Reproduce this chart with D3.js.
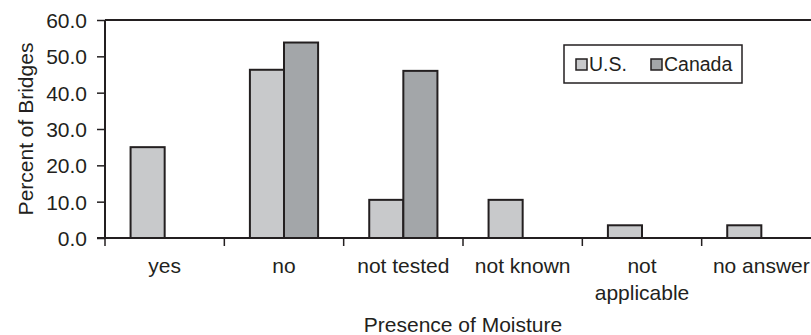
<!DOCTYPE html>
<html>
<head>
<meta charset="utf-8">
<script src="https://cdn.jsdelivr.net/npm/d3@7"></script>
<style>
  html, body { margin: 0; padding: 0; background: #fff; }
  svg { display: block; }
  text { font-family: "Liberation Sans", Arial, Helvetica, sans-serif; fill: #231f20; }
</style>
</head>
<body>
<svg id="chart" width="811" height="335"></svg>
<script>
const categories = ["yes", "no", "not tested", "not known", "not applicable", "no answer"];
const seriesNames = ["U.S.", "Canada"];
const usValues = [25.0, 46.3, 10.5, 10.5, 3.5, 3.5];
const canadaValues = [null, 53.8, 46.0, null, null, null];
const yTicks = [0, 10, 20, 30, 40, 50, 60];
const xTitle = "Presence of Moisture";
const yTitle = "Percent of Bridges";

(function () {
const colors = { "U.S.": "#c8c9cb", "Canada": "#a3a6a9" };
const ink = "#231f20";

const svg = d3.select("#chart");
const mLeft = 105, mTop = 20, mBottom = 238, mRight = 821;

const x0 = d3.scaleBand().domain(categories).range([mLeft, mRight]).paddingInner(0).paddingOuter(0);
const x1 = d3.scaleBand().domain(seriesNames).range([0, x0.bandwidth()]).paddingInner(0).paddingOuter(0.75);
const y = d3.scaleLinear().domain([0, 60]).range([mBottom, mTop]);

const rows = categories.map((c, i) => ({
  category: c,
  values: [
    { series: "U.S.", value: usValues[i] },
    { series: "Canada", value: canadaValues[i] }
  ].filter(d => d.value != null)
}));

// plot area border (top & right edges)
svg.append("line").attr("x1", mLeft).attr("x2", mRight).attr("y1", y(60)).attr("y2", y(60))
  .attr("stroke", ink).attr("stroke-width", 2);
svg.append("line").attr("x1", mRight).attr("x2", mRight).attr("y1", y(60)).attr("y2", y(0))
  .attr("stroke", ink).attr("stroke-width", 2);

// bars
const g = svg.append("g");
g.selectAll("g.cat").data(rows).join("g")
  .attr("class", "cat")
  .attr("transform", d => `translate(${x0(d.category)},0)`)
  .selectAll("rect").data(d => d.values).join("rect")
  .attr("x", d => x1(d.series))
  .attr("width", x1.bandwidth())
  .attr("y", d => y(d.value))
  .attr("height", d => y(0) - y(d.value))
  .attr("fill", d => colors[d.series])
  .attr("stroke", ink)
  .attr("stroke-width", 2);

// y axis
const yAxis = d3.axisLeft(y).tickValues(yTicks).tickFormat(d3.format(".1f")).tickSize(8).tickPadding(10);
const ya = svg.append("g").attr("transform", `translate(${mLeft},0)`).call(yAxis);
ya.select(".domain").attr("stroke", ink).attr("stroke-width", 2).attr("d", `M0,${y(60)}V${y(0)}`);
ya.selectAll(".tick line").attr("stroke", ink).attr("stroke-width", 1.5);
ya.selectAll(".tick text").style("font-size", "21px").attr("fill", ink)
  .style("font-family", '"Liberation Sans", Arial, sans-serif').attr("dy", "0.36em");

// x axis
const xTickScale = d3.scaleLinear().domain([0, categories.length]).range([mLeft, mRight]);
const boundaries = d3.range(categories.length + 1);
const xa = svg.append("g");
xa.append("line").attr("x1", mLeft - 8).attr("x2", mRight).attr("y1", y(0)).attr("y2", y(0))
  .attr("stroke", ink).attr("stroke-width", 2);
xa.selectAll("line.tk").data(boundaries).join("line").attr("class", "tk")
  .attr("x1", d => xTickScale(d)).attr("x2", d => xTickScale(d))
  .attr("y1", y(0)).attr("y2", y(0) + 8)
  .attr("stroke", ink).attr("stroke-width", 1.5);

const labels = xa.selectAll("text.cl").data(categories).join("text").attr("class", "cl")
  .attr("text-anchor", "middle")
  .style("font-size", "21px")
  .attr("x", d => x0(d) + x0.bandwidth() / 2)
  .attr("y", 273);
labels.each(function (d) {
  const t = d3.select(this);
  const cx = x0(d) + x0.bandwidth() / 2;
  t.text(d);
  if (this.getComputedTextLength() > x0.bandwidth() - 6) {
    const words = d.split(" ");
    t.text(null);
    words.forEach((w, i) => {
      t.append("tspan").attr("x", cx).attr("dy", i === 0 ? 0 : 27).text(w);
    });
  }
});

// axis titles
svg.append("text").attr("x", 463).attr("y", 332)
  .attr("text-anchor", "middle").style("font-size", "21px").text(xTitle);
svg.append("text")
  .attr("transform", `translate(33,${(mTop + mBottom) / 2}) rotate(-90)`)
  .attr("text-anchor", "middle").style("font-size", "21px").text(yTitle);

// legend
const lg = svg.append("g").attr("transform", "translate(564,45)");
lg.append("rect").attr("width", 178).attr("height", 38).attr("fill", "#fff")
  .attr("stroke", ink).attr("stroke-width", 1.5);
const legendX = { "U.S.": 12, "Canada": 87 };
const li = lg.selectAll("g.li").data(seriesNames).join("g").attr("class", "li")
  .attr("transform", d => `translate(${legendX[d]},0)`);
li.append("rect").attr("x", 0).attr("y", 14).attr("width", 11).attr("height", 11)
  .attr("fill", d => colors[d]).attr("stroke", ink).attr("stroke-width", 1.5);
li.append("text").attr("x", 13).attr("y", 26).style("font-size", "19.5px").text(d => d);
})();
</script>
</body>
</html>
